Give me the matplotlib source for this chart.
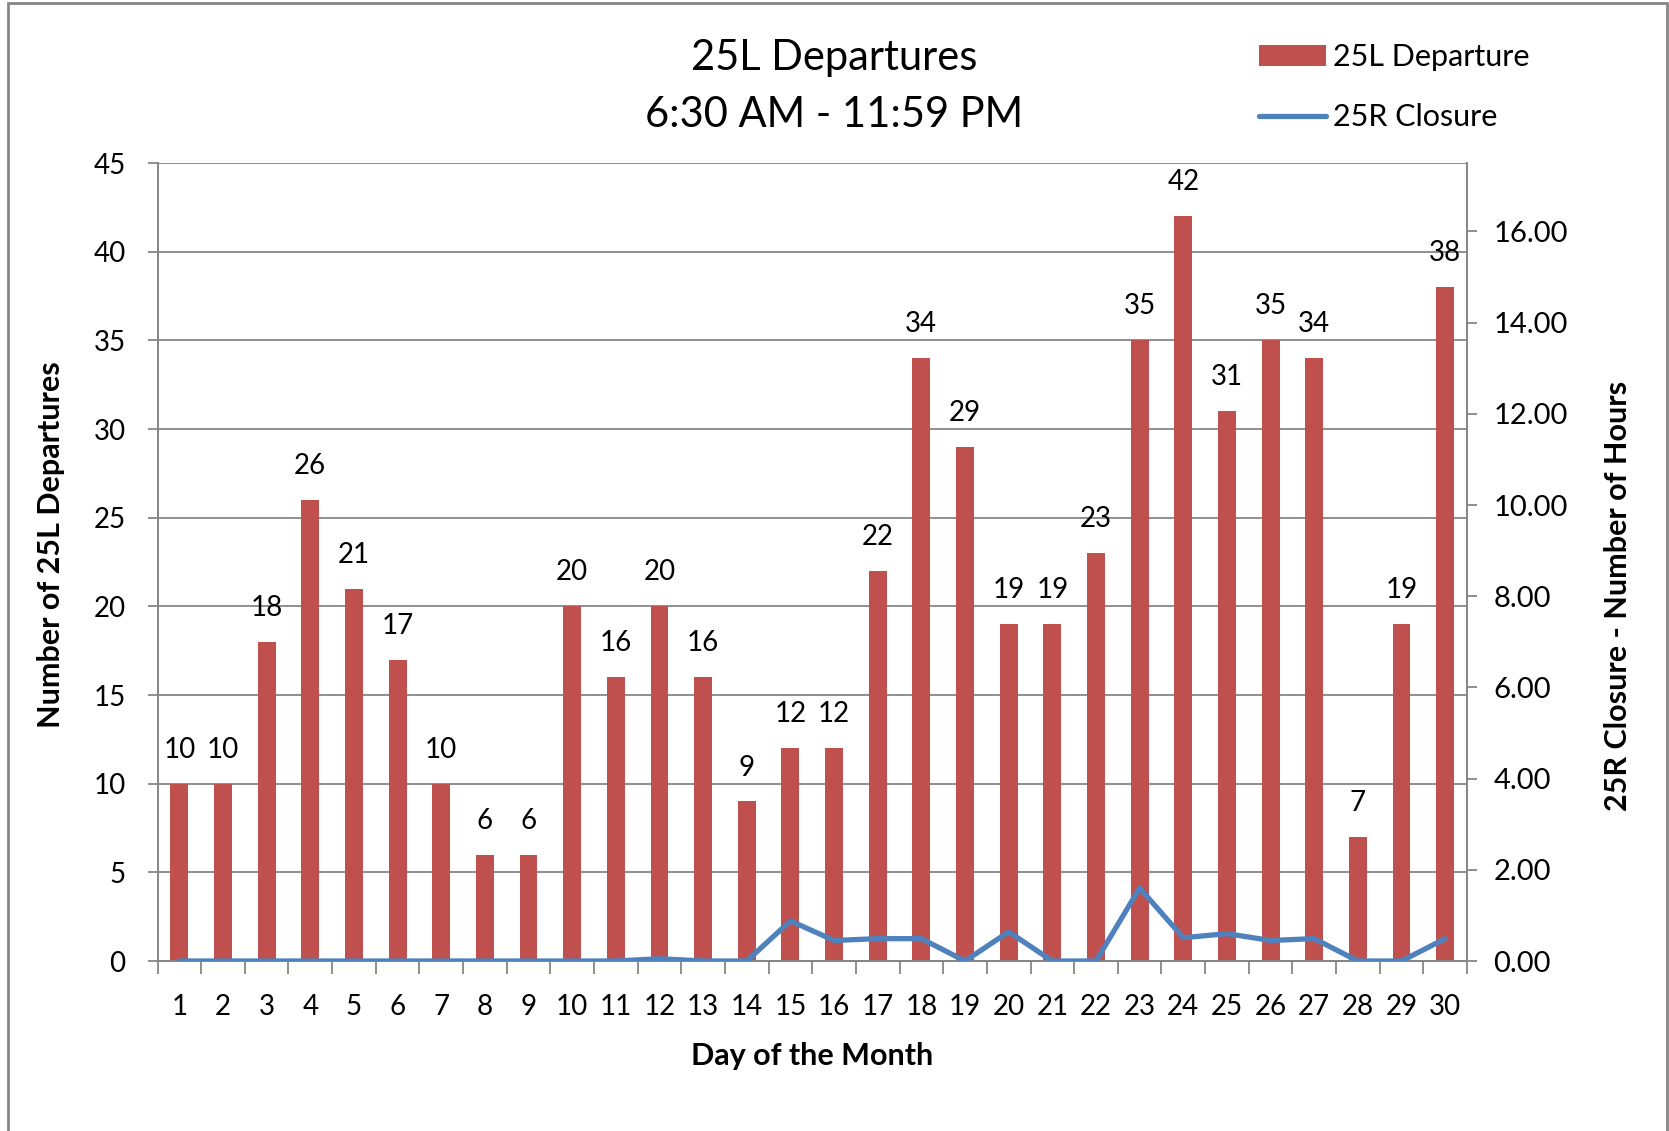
import matplotlib
matplotlib.use("Agg")
import matplotlib.pyplot as plt
from matplotlib.patches import Rectangle
import numpy as np

plt.rcParams['font.family'] = ['Lato', 'DejaVu Sans']

days = list(range(1, 31))
departures = [10, 10, 18, 26, 21, 17, 10, 6, 6, 20, 16, 20, 16, 9, 12, 12, 22, 34, 29, 19,
              19, 23, 35, 42, 31, 35, 34, 7, 19, 38]
closure_hours = [0, 0, 0, 0, 0, 0, 0, 0, 0, 0, 0, 0.05, 0, 0, 0.88, 0.45, 0.49, 0.49, 0, 0.64,
                 0, 0, 1.60, 0.51, 0.60, 0.45, 0.49, 0, 0, 0.49]
left_ticks = [0, 5, 10, 15, 20, 25, 30, 35, 40, 45]
right_ticks = [0, 2, 4, 6, 8, 10, 12, 14, 16]

W, H = 1669, 1131
fig = plt.figure(figsize=(W / 100, H / 100), dpi=100)
ax = fig.add_axes([157.5 / W, 1 - 961 / H, (1467 - 157.5) / W, (961 - 163) / H])
ax2 = ax.twinx()

gray = '#868686'
bar_color = '#C0504D'
line_color = '#4F81BD'

bars = ax.bar(days, departures, width=0.41, color=bar_color, zorder=2, label='25L Departure')
for d, v in zip(days, departures):
    ax.annotate(str(v), (d, v), xytext=(0, 15), textcoords='offset points',
                ha='center', va='bottom', fontsize=20)

line, = ax2.plot(days, closure_hours, color=line_color, lw=3.8, solid_capstyle='round',
                 solid_joinstyle='round', label='25R Closure', zorder=3)

ax.set_xlim(0.5, 30.5)
ax.set_ylim(0, 45)
ax2.set_ylim(0, 17.5)
ax.set_yticks(left_ticks)
ax.set_yticklabels([str(t) for t in left_ticks])
ax2.set_yticks(right_ticks)
ax2.set_yticklabels([f"{t:.2f}" for t in right_ticks])

ax.set_xticks(days)
ax.set_xticklabels([str(d) for d in days])
ax.set_xticks(np.arange(0.5, 31, 1), minor=True)
ax.tick_params(axis='x', which='major', length=0, pad=24, labelsize=20)
ax.tick_params(axis='x', which='minor', length=9, width=1.3, color=gray, direction='out')
ax.tick_params(axis='y', length=7, width=1.3, color=gray, direction='out', pad=16, labelsize=20)
ax2.tick_params(axis='y', length=7, width=1.3, color=gray, direction='out', pad=12, labelsize=21)

ax.yaxis.grid(True, color=gray, lw=1.3, zorder=0)
ax.set_axisbelow(True)
for a in (ax, ax2):
    a.spines['top'].set_visible(False)
    for s in ('left', 'right', 'bottom'):
        a.spines[s].set_color(gray)
        a.spines[s].set_linewidth(1.3)

fig.text(812 / W, 1 - 1056 / H, 'Day of the Month', fontsize=22, fontweight='bold',
         ha='center', va='center')
fig.text(51 / W, 1 - 545 / H, 'Number of 25L Departures', fontsize=22, fontweight='bold',
         rotation=90, ha='center', va='center')
fig.text(1618 / W, 1 - 596 / H, '25R Closure - Number of Hours', fontsize=22, fontweight='bold',
         rotation=90, ha='center', va='center')

fig.text(834 / W, 1 - 58 / H, '25L Departures', fontsize=30, ha='center', va='center')
fig.text(834 / W, 1 - 115 / H, '6:30 AM - 11:59 PM', fontsize=30, ha='center', va='center')

fig.legend(handles=[bars, line], labels=['25L Departure', '25R Closure'],
           loc='upper left', bbox_to_anchor=(1250 / W, 1 - 34 / H), frameon=False,
           fontsize=22, handlelength=2.2, handletextpad=0.2, labelspacing=1.05,
           borderaxespad=0, borderpad=0.3)

fig.add_artist(Rectangle((8 / W, -0.02), (1667 - 8) / W, 1.02 - 3 / H, transform=fig.transFigure,
                         fill=False, edgecolor=gray, lw=2))

fig.savefig('out.png', dpi=100)
